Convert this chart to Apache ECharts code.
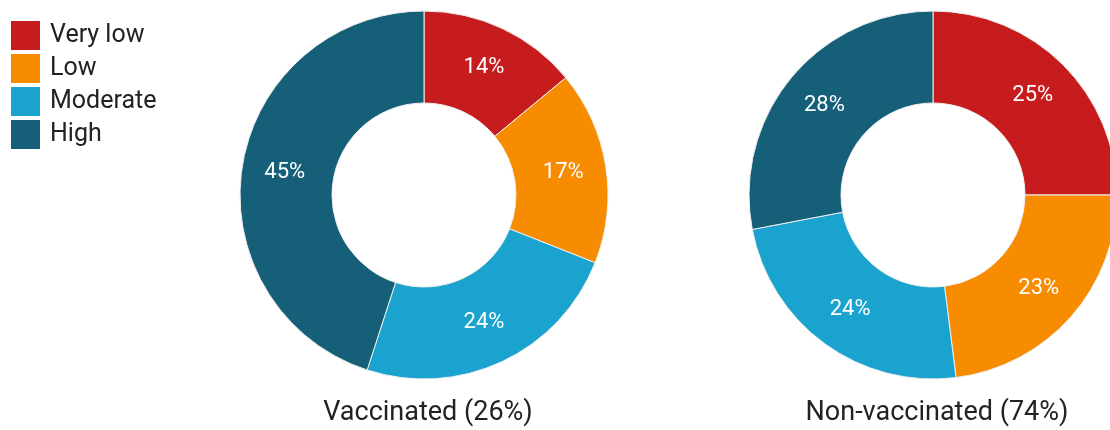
<!DOCTYPE html>
<html>
<head>
<meta charset="utf-8">
<script src="https://cdn.jsdelivr.net/npm/echarts@6/dist/echarts.min.js"></script>
<style>
html,body{margin:0;padding:0;background:#fff;}
#chart{width:1110px;height:430px;}
</style>
</head>
<body>
<div id="chart"></div>
<script>
var categories = ['Very low', 'Low', 'Moderate', 'High'];
var vaccinatedValues = [14, 17, 24, 45];
var nonVaccinatedValues = [25, 23, 24, 28];
var groupTitles = ['Vaccinated (26%)', 'Non-vaccinated (74%)'];
var colors = ['#c71c1e', '#f88c00', '#1aa3cf', '#155f79'];

function toData(vals) {
  return categories.map(function (c, i) { return { name: c, value: vals[i] }; });
}

var chart = echarts.init(document.getElementById('chart'));
var fontFam = 'Roboto';
function pieSeries(vals, center) {
  return {
    type: 'pie',
    radius: [92, 184],
    center: center,
    startAngle: 90,
    clockwise: true,
    avoidLabelOverlap: false,
    emphasis: { disabled: true },
    itemStyle: { borderColor: '#eeeeee', borderWidth: 1 },
    label: {
      show: true,
      position: 'inside',
      formatter: '{c}%',
      color: '#ffffff',
      fontFamily: fontFam,
      fontSize: 22
    },
    labelLine: { show: false },
    data: toData(vals)
  };
}
chart.setOption({
  animation: false,
  color: colors,
  textStyle: { fontFamily: fontFam },
  title: [
    { text: groupTitles[0], left: 423, top: 395, textAlign: 'center',
      textStyle: { fontFamily: fontFam, fontSize: 27, fontWeight: 'normal', color: '#222' } },
    { text: groupTitles[1], left: 932, top: 395, textAlign: 'center',
      textStyle: { fontFamily: fontFam, fontSize: 27, fontWeight: 'normal', color: '#222' } }
  ],
  legend: {
    orient: 'vertical',
    left: 11,
    top: 21,
    padding: 0,
    itemWidth: 29,
    itemHeight: 29,
    itemGap: 4,
    icon: 'rect',
    selectedMode: false,
    itemStyle: { borderWidth: 0 },
    textStyle: { fontFamily: fontFam, fontSize: 25, lineHeight: 29, color: '#222', padding: [0, 0, 0, 5] },
    data: categories
  },
  series: [
    pieSeries(vaccinatedValues, [424, 195]),
    pieSeries(nonVaccinatedValues, [933, 195])
  ]
});
</script>
</body>
</html>
